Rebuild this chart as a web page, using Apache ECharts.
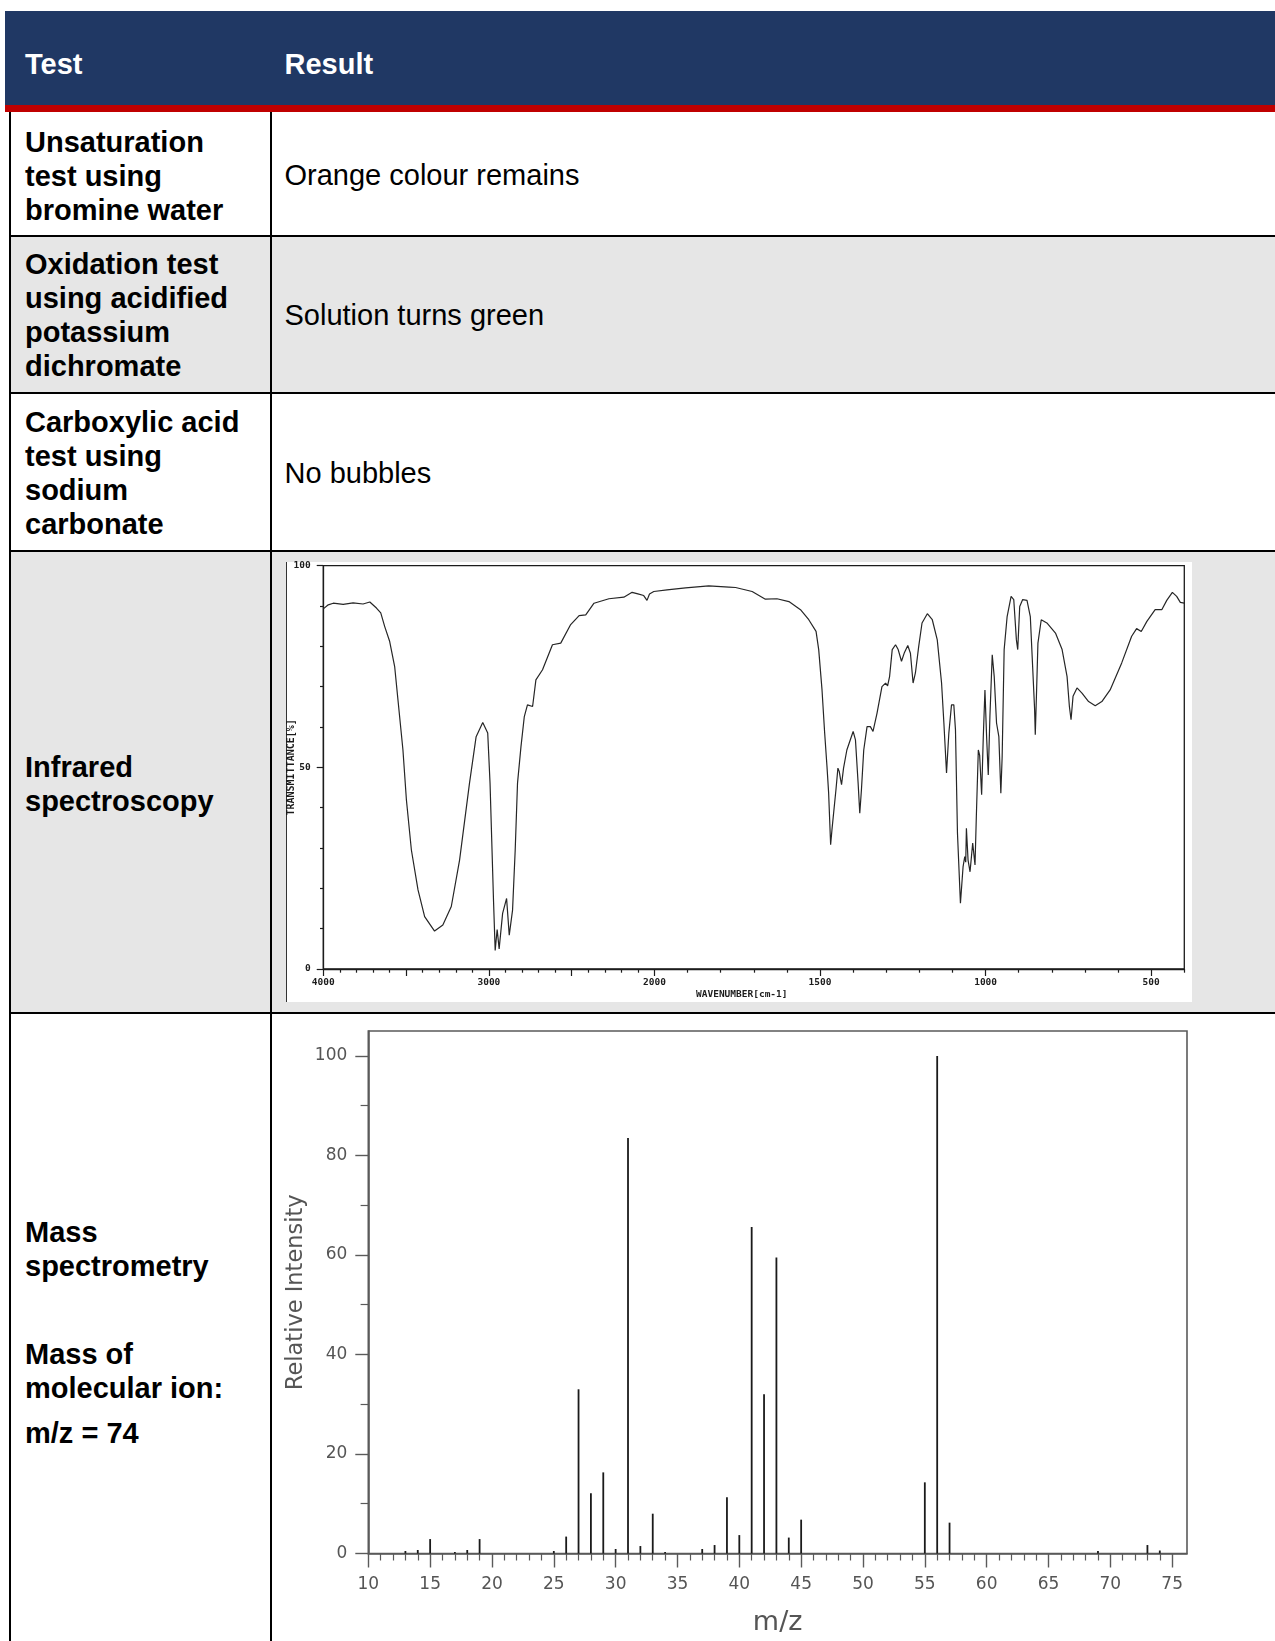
<!DOCTYPE html>
<html>
<head>
<meta charset="utf-8">
<title>Test results</title>
<script src="https://cdn.jsdelivr.net/npm/echarts@6/dist/echarts.min.js"></script>
<style>
  html, body { margin: 0; padding: 0; background: #ffffff; }
  #page { position: relative; width: 1275px; height: 1641px; overflow: hidden;
          font-family: "Liberation Sans", Arial, sans-serif; color: #000; }
  .abs { position: absolute; }
  .hdr { background: #203864; }
  .red { background: #c00000; }
  .grey { background: #e6e6e6; }
  .rule { background: #000; }
  .txt { position: absolute; font-size: 29px; line-height: 34px; white-space: nowrap; }
  .b { font-weight: bold; }
  .w { color: #fff; }
  #chart { position: absolute; left: 0; top: 0; width: 1275px; height: 1641px; z-index: 5; }
</style>
</head>
<body>
<div id="page">
  <!-- header band -->
  <div class="abs hdr" style="left:5px;top:10.5px;width:1270px;height:94.5px"></div>
  <div class="abs red" style="left:5px;top:105px;width:1270px;height:7px"></div>
  <div class="txt b w" style="left:25px;top:46.5px">Test</div>
  <div class="txt b w" style="left:284.5px;top:46.5px">Result</div>

  <!-- shaded rows -->
  <div class="abs grey" style="left:10px;top:236px;width:1265px;height:156px"></div>
  <div class="abs grey" style="left:10px;top:551px;width:1265px;height:461px"></div>

  <!-- infrared spectrum panel -->
  <div class="abs" style="left:286px;top:562px;width:905.5px;height:440px;background:#fff"></div>
  <div class="abs" style="left:285.5px;top:562px;width:1.2px;height:440px;background:#333"></div>

  <!-- table rules -->
  <div class="abs rule" style="left:9px;top:112px;width:2px;height:1529px"></div>
  <div class="abs rule" style="left:269.5px;top:112px;width:2px;height:1529px"></div>
  <div class="abs rule" style="left:9px;top:234.5px;width:1266px;height:2px"></div>
  <div class="abs rule" style="left:9px;top:391.5px;width:1266px;height:2px"></div>
  <div class="abs rule" style="left:9px;top:549.5px;width:1266px;height:2px"></div>
  <div class="abs rule" style="left:9px;top:1011.5px;width:1266px;height:2px"></div>

  <!-- row texts -->
  <div class="txt b" style="left:25px;top:124.5px">Unsaturation<br>test using<br>bromine water</div>
  <div class="txt" style="left:284.5px;top:158px">Orange colour remains</div>

  <div class="txt b" style="left:25px;top:247px">Oxidation test<br>using acidified<br>potassium<br>dichromate</div>
  <div class="txt" style="left:284.5px;top:298px">Solution turns green</div>

  <div class="txt b" style="left:25px;top:405px">Carboxylic acid<br>test using<br>sodium<br>carbonate</div>
  <div class="txt" style="left:284.5px;top:456px">No bubbles</div>

  <div class="txt b" style="left:25px;top:749.5px">Infrared<br>spectroscopy</div>

  <div class="txt b" style="left:25px;top:1215px">Mass<br>spectrometry</div>
  <div class="txt b" style="left:25px;top:1336.5px">Mass of<br>molecular ion:</div>
  <div class="txt b" style="left:25px;top:1416px">m/z = 74</div>

  <div id="chart"></div>
</div>

<script>
// Infrared spectrum: wavenumber (cm-1) and transmittance (%)
const IR_WAVENUMBER = [
  4000, 3970, 3940, 3880, 3820, 3760, 3719, 3679, 3653, 3629,
  3599, 3569, 3549, 3519, 3498, 3468, 3428, 3388, 3328, 3278,
  3227, 3177, 3117, 3077, 3037, 3007, 2993, 2981, 2972, 2962,
  2950, 2938, 2917, 2893, 2877, 2857, 2841, 2827, 2806, 2786,
  2767, 2736, 2716, 2676, 2616, 2566, 2506, 2455, 2415, 2365,
  2275, 2185, 2135, 2100, 2065, 2045, 2030, 2004, 1962, 1906,
  1836, 1775, 1755, 1705, 1665, 1630, 1594, 1559, 1534, 1512,
  1504, 1494, 1486, 1479, 1474, 1468, 1464, 1459, 1452, 1446,
  1442, 1438, 1435, 1429, 1419, 1400, 1393, 1385, 1380, 1375,
  1368, 1358, 1348, 1340, 1328, 1313, 1302, 1296, 1290, 1282,
  1272, 1264, 1254, 1245, 1235, 1227, 1219, 1212, 1202, 1192,
  1176, 1161, 1146, 1133, 1126, 1118, 1111, 1103, 1096, 1091,
  1085, 1076, 1068, 1063, 1060, 1058, 1053, 1047, 1039, 1032,
  1028, 1022, 1018, 1012, 1007, 1002, 997, 992, 987, 980,
  974, 967, 960, 954, 950, 944, 935, 923, 915, 907,
  903, 897, 888, 875, 865, 858, 852, 850, 846, 842,
  832, 815, 789, 769, 754, 747, 742, 736, 724, 709,
  689, 669, 649, 624, 589, 559, 544, 530, 513, 488,
  468, 453, 436, 423, 412, 400
];
const IR_TRANSMITTANCE = [
  89.3, 90.3, 90.7, 90.4, 90.8, 90.5, 91.0, 89.5, 88.3, 84.9,
  81.2, 75.0, 66.7, 54.3, 41.9, 29.5, 19.6, 13.0, 9.4, 10.9,
  15.5, 27.0, 46.1, 57.6, 61.1, 58.5, 46.1, 29.5, 17.0, 4.6,
  9.8, 5.0, 13.8, 17.5, 8.4, 14.6, 29.5, 46.1, 55.2, 62.6,
  65.5, 65.1, 71.7, 74.2, 80.4, 80.8, 85.4, 87.6, 87.8, 90.7,
  91.8, 92.2, 93.4, 93.0, 92.6, 91.4, 93.0, 93.6, 94.0, 94.5,
  95.0, 94.7, 94.6, 93.6, 91.7, 91.8, 91.1, 89.1, 86.6, 83.7,
  79.2, 69.2, 58.5, 50.2, 43.6, 30.8, 34.5, 34.9, 44.4, 49.8,
  49.0, 47.0, 45.7, 49.8, 54.3, 58.9, 56.8, 46.1, 38.6, 44.4,
  54.3, 60.1, 60.1, 58.9, 63.4, 70.0, 70.9, 70.2, 72.5, 79.2,
  80.4, 79.2, 76.3, 78.5, 80.2, 78.3, 70.9, 73.4, 80.0, 85.8,
  88.1, 86.6, 81.6, 70.9, 61.0, 48.6, 58.5, 65.5, 65.5, 59.3,
  33.7, 16.3, 25.4, 27.9, 26.5, 34.9, 27.0, 24.1, 31.2, 25.8,
  37.8, 54.3, 53.0, 43.2, 57.6, 69.2, 57.6, 48.1, 62.6, 77.9,
  72.5, 61.0, 57.6, 43.6, 52.7, 79.2, 87.4, 92.4, 91.6, 81.6,
  79.2, 89.9, 91.6, 91.4, 87.4, 75.0, 64.3, 58.1, 69.2, 80.8,
  86.6, 85.8, 83.3, 79.2, 72.5, 65.1, 61.8, 67.6, 69.7, 68.4,
  66.3, 65.3, 66.3, 69.2, 75.9, 82.5, 84.4, 83.7, 86.2, 89.1,
  89.1, 91.4, 93.4, 92.4, 90.9, 90.7
];
const IR_X_LABELS = [4000, 3000, 2000, 1500, 1000, 500];
const IR_Y_LABELS = [0, 50, 100];

// Mass spectrum: m/z and relative intensity (%)
const MS_MZ = [13, 14, 15, 17, 18, 19, 25, 26, 27, 28, 29, 30, 31, 32, 33, 34,
               37, 38, 39, 40, 41, 42, 43, 44, 45, 55, 56, 57, 69, 73, 74];
const MS_INTENSITY = [0.5, 0.7, 2.9, 0.3, 0.7, 2.9, 0.5, 3.4, 33.0, 12.1, 16.3, 0.9, 83.5, 1.5, 8.0, 0.3,
                      0.9, 1.7, 11.3, 3.7, 65.6, 32.0, 59.5, 3.2, 6.8, 14.3, 100, 6.2, 0.5, 1.7, 0.6];
const MS_X_LABELS = [10, 15, 20, 25, 30, 35, 40, 45, 50, 55, 60, 65, 70, 75];
const MS_Y_LABELS = [0, 20, 40, 60, 80, 100];

// The IR chart uses the usual two-scale wavenumber axis:
// 4000-2000 cm-1 is compressed by half relative to 2000-400 cm-1.
function toU(wn) { return wn >= 2000 ? (4000 - wn) / 2 : 1000 + (2000 - wn); }
function fromU(u) { return Math.round(u <= 1000 ? 4000 - 2 * u : 2000 - (u - 1000)); }

function range(a, b, step) { const r = []; for (let v = a; v <= b + 1e-9; v += step) r.push(v); return r; }

const irLongTicks = [4000, 3500, 3000, 2500, 2000, 1500, 1000, 500].map(toU);
const irShortTicks = range(400, 4000, 100).filter(w => w % 500 !== 0).map(toU);
const irYShort = range(10, 90, 10).filter(v => v !== 50);
const msXShort = range(10, 75, 1).filter(v => v % 5 !== 0);
const msYShort = range(10, 90, 20);

const irData = IR_WAVENUMBER.map((w, i) => [toU(w), IR_TRANSMITTANCE[i]]);
const msData = MS_MZ.map((m, i) => [m, MS_INTENSITY[i]]);

const IR_INK = '#1c1c1c';
const MS_INK = '#5a5a5a';
const pixelFont = { fontFamily: 'DejaVu Sans Mono', fontWeight: 'bold', color: IR_INK };

// tick-only companion axis sharing a grid with a labelled axis
function tickAxis(gridIndex, pos, min, max, values, length, color) {
  return { gridIndex, type: 'value', position: pos, min, max,
           axisLine: { show: false, onZero: false }, splitLine: { show: false },
           axisTick: { show: true, customValues: values, length, lineStyle: { color, width: 1.2 } },
           axisLabel: { show: false } };
}

const chart = echarts.init(document.getElementById('chart'), null, { renderer: 'canvas' });
chart.setOption({
  animation: false,
  backgroundColor: 'transparent',
  grid: [
    { left: 323.3, top: 565.7, width: 861, height: 403.3, show: true,
      borderColor: IR_INK, borderWidth: 1.3, backgroundColor: 'transparent', containLabel: false },
    { left: 368.3, top: 1031, width: 818.7, height: 522.5, show: true,
      borderColor: MS_INK, borderWidth: 1.6, backgroundColor: 'transparent', containLabel: false }
  ],
  xAxis: [
    { gridIndex: 0, type: 'value', position: 'bottom', min: 0, max: 2600,
      axisLine: { show: true, onZero: false, lineStyle: { color: IR_INK, width: 1.3 } },
      splitLine: { show: false },
      axisTick: { show: true, customValues: irLongTicks, length: 7, lineStyle: { color: IR_INK, width: 1.2 } },
      axisLabel: { show: true, customValues: IR_X_LABELS.map(toU), formatter: v => String(fromU(v)),
                   margin: 9, fontSize: 9.5, ...pixelFont } },
    tickAxis(0, 'bottom', 0, 2600, irShortTicks, 3.7, IR_INK),
    { gridIndex: 1, type: 'value', position: 'bottom', min: 10, max: 76.2,
      axisLine: { show: true, onZero: false, lineStyle: { color: MS_INK, width: 1.6 } },
      splitLine: { show: false },
      axisTick: { show: true, customValues: MS_X_LABELS, length: 14, lineStyle: { color: MS_INK, width: 1.4 } },
      axisLabel: { show: true, customValues: MS_X_LABELS, margin: 23, fontFamily: 'DejaVu Sans',
                   fontSize: 17, color: '#555' },
      name: 'm/z', nameLocation: 'middle', nameGap: 56, nameMoveOverlap: false,
      nameTextStyle: { fontFamily: 'DejaVu Sans', fontSize: 27, color: '#555' } },
    tickAxis(1, 'bottom', 10, 76.2, msXShort, 7, MS_INK)
  ],
  yAxis: [
    { gridIndex: 0, type: 'value', position: 'left', min: 0, max: 100,
      axisLine: { show: true, onZero: false, lineStyle: { color: IR_INK, width: 1.3 } },
      splitLine: { show: false },
      axisTick: { show: true, customValues: IR_Y_LABELS, length: 6.6, lineStyle: { color: IR_INK, width: 1.2 } },
      axisLabel: { show: true, customValues: IR_Y_LABELS, margin: 12.6, fontSize: 9.5, ...pixelFont },
      name: 'TRANSMITTANCE[%]', nameLocation: 'middle', nameGap: 27, nameRotate: 90, nameMoveOverlap: false,
      nameTextStyle: { fontSize: 10, ...pixelFont } },
    tickAxis(0, 'left', 0, 100, irYShort, 3.3, IR_INK),
    { gridIndex: 1, type: 'value', position: 'left', min: 0, max: 105,
      axisLine: { show: true, onZero: false, lineStyle: { color: MS_INK, width: 1.6 } },
      splitLine: { show: false },
      axisTick: { show: true, customValues: MS_Y_LABELS, length: 13, lineStyle: { color: MS_INK, width: 1.4 } },
      axisLabel: { show: true, customValues: MS_Y_LABELS, margin: 21, fontFamily: 'DejaVu Sans',
                   fontSize: 17, color: '#555' },
      name: 'Relative Intensity', nameLocation: 'middle', nameGap: 60.5, nameRotate: 90, nameMoveOverlap: false,
      nameTextStyle: { fontFamily: 'DejaVu Sans', fontSize: 22.5, color: '#555' } },
    tickAxis(1, 'left', 0, 105, msYShort, 7.7, MS_INK)
  ],
  graphic: [
    { type: 'text', left: 696, top: 990,
      style: { text: 'WAVENUMBER[cm-1]', font: 'bold 9.5px "DejaVu Sans Mono"', fill: IR_INK } }
  ],
  series: [
    { type: 'line', xAxisIndex: 0, yAxisIndex: 0, data: irData, showSymbol: false, silent: true,
      lineStyle: { color: '#262626', width: 1.2 } },
    { type: 'bar', xAxisIndex: 2, yAxisIndex: 2, data: msData, barWidth: 1.8, silent: true,
      itemStyle: { color: '#1a1a1a' } }
  ]
});
</script>
</body>
</html>
